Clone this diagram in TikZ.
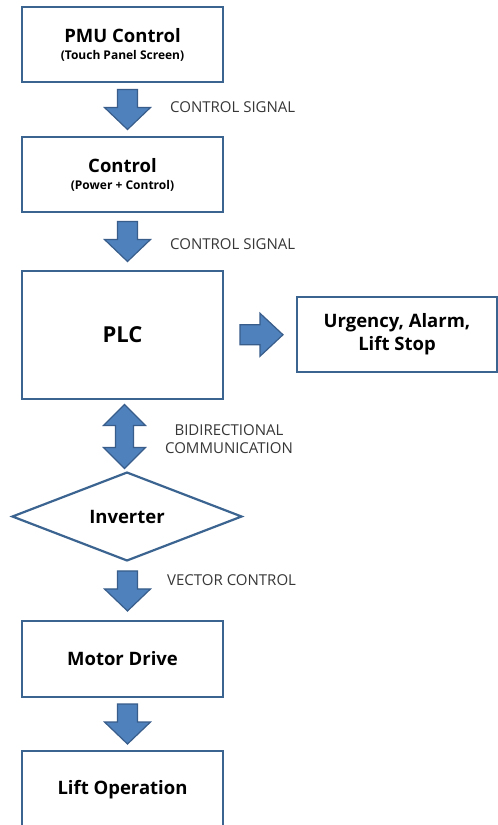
\documentclass[tikz,border=0pt]{standalone}
\usepackage{fontspec}
\setmainfont{Open Sans}
\usetikzlibrary{calc,shapes.geometric}

\definecolor{boxline}{RGB}{60,100,145}
\definecolor{arrowfill}{RGB}{79,129,189}
\definecolor{arrowline}{RGB}{56,93,138}
\definecolor{labeltext}{RGB}{55,55,55}

\newcommand{\titlefont}{\fontsize{18.5}{23}\selectfont\bfseries}
\newcommand{\subfont}{\fontsize{12}{17}\selectfont\bfseries}

% fat arrow pointing down, sitting in the gap between two stages
\newcommand{\blockdn}[2]{%
    \coordinate (m0) at ($(#1.south)!0.5!(#2.north)$);
    \coordinate (m) at (#2.north |- m0);
    \draw[blockarrow] ($(m)+(-5,-20)$) -- ++(20,0) -- ++(0,18) -- ++(13,0)
        -- ++(-23,22) -- ++(-23,-22) -- ++(13,0) -- cycle;
}

\tikzset{
    stage/.style={draw=boxline, line width=2.2pt, fill=white,
        minimum width=201pt, align=center, inner sep=0pt},
    blockarrow/.style={fill=arrowfill, draw=arrowline, line width=1.2pt,
        line join=miter},
    sig/.style={text=labeltext, font=\fontsize{15}{18}\selectfont,
        inner sep=0pt, align=center}
}

\begin{document}
\begin{tikzpicture}[x=1pt, y=-1pt]
    \clip (0,0) rectangle (498,825);
    \fill[white] (0,0) rectangle (498,825);

    \node[stage, minimum height=75pt, font=\subfont] (pmu) at (122.5,44.5)
        {{\titlefont PMU Control}\\(Touch Panel Screen)};
    \node[stage, minimum height=75pt, font=\subfont] (ctrl) at (122.5,174.5)
        {{\titlefont Control}\\(Power + Control)};
    \node[stage, minimum height=128pt, font=\fontsize{22}{26}\selectfont\bfseries]
        (plc) at (122.5,335) {PLC};
    \node[stage, minimum width=200pt, minimum height=75pt, font=\titlefont] (alarm)
        at (397,334.5) {Urgency, Alarm,\\Lift Stop};
    \node[diamond, draw=boxline, line width=2.2pt, fill=white, inner sep=0pt,
        minimum width=230pt, minimum height=87pt, font=\titlefont] (inv)
        at (127,516.5) {Inverter};
    \node[stage, minimum height=76pt, font=\titlefont] (motor) at (122.5,659) {Motor Drive};
    \node[stage, minimum height=78pt, font=\titlefont] (lift) at (122.5,790) {Lift Operation};

    % flow arrows
    \blockdn{pmu}{ctrl}
    \blockdn{ctrl}{plc}
    \blockdn{inv}{motor}
    \blockdn{motor}{lift}

    % PLC -> alarm
    \coordinate (r0) at ($(plc.east)!0.5!(alarm.west)$);
    \draw[blockarrow] ($(r0)+(-20,-10)$) -- ++(20,0) -- ++(0,-11.5) -- ++(23,21.5)
        -- ++(-23,21.5) -- ++(0,-11.5) -- ++(-20,0) -- cycle;

    % PLC <-> inverter
    \coordinate (d0) at ($(plc.south)!0.5!(inv.north)$);
    \coordinate (d) at (plc.south |- d0);
    \draw[blockarrow] ($(d)+(2,-31)$) -- ++(21,21) -- ++(-12,0) -- ++(0,22)
        -- ++(12,0) -- ++(-21,21) -- ++(-21,-21) -- ++(12,0) -- ++(0,-22)
        -- ++(-12,0) -- cycle;

    % signal labels
    \node[sig, anchor=west] (sig1) at (170,107) {CONTROL SIGNAL};
    \node[sig, anchor=west] (sig2) at (170,244) {CONTROL SIGNAL};
    \node[sig] (sig3) at (229,439) {BIDIRECTIONAL\\COMMUNICATION};
    \node[sig, anchor=west] (sig4) at (167,580) {VECTOR CONTROL};
\end{tikzpicture}
\end{document}
